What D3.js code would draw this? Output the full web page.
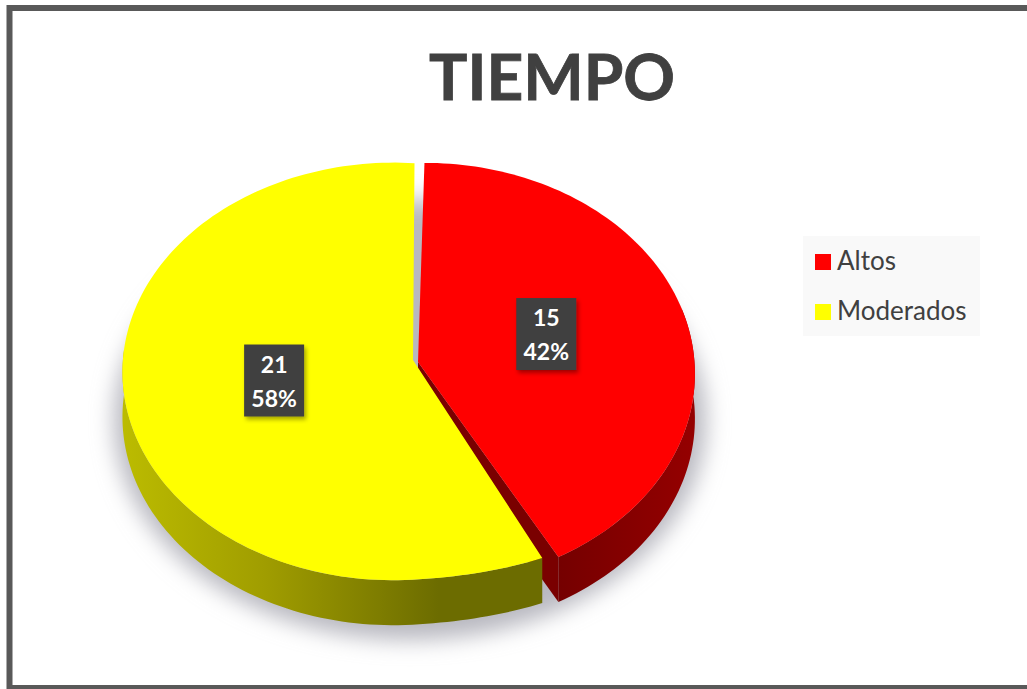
<!DOCTYPE html>
<html>
<head>
<meta charset="utf-8">
<script src="https://cdn.jsdelivr.net/npm/d3@7"></script>
<style>
  html, body { margin: 0; padding: 0; background: #fff; }
  svg { display: block; }
  text { font-family: Lato, sans-serif; }
</style>
</head>
<body>
<div id="chart"></div>
<script>
const categories = ["Altos", "Moderados"];
const values = [15, 21];
const percentLabels = ["42%", "58%"];
const colors = ["#ff0000", "#ffff00"];

const width = 1027, height = 689;
const depth = 45;

// each slice has its own centre because the pie is exploded and drawn in perspective
const geom = {
    Altos: {apexX: 418, apexY: 362, cx: 420, cy: 362, rx: 269, ry: 210, tiltX: -0.02, tiltY: 0.055, skewY: 0, labelDx: -2, labelDy: -3},
    Moderados: {apexX: 413, apexY: 360, cx: 410, cy: 362, rx: 270, ry: 208, tiltX: 0.06, tiltY: 0.045, skewY: 52, labelDx: -3, labelDy: -7}
};

const svg = d3.select("#chart").append("svg")
    .attr("width", width)
    .attr("height", height);

const defs = svg.append("defs");
defs.append("filter").attr("id", "blur").attr("x", "-20%").attr("y", "-20%")
    .attr("width", "140%").attr("height", "140%")
    .append("feGaussianBlur").attr("stdDeviation", 11);
const labelShadow = defs.append("filter").attr("id", "boxShadow");
labelShadow.append("feDropShadow").attr("dx", 2).attr("dy", 3)
    .attr("stdDeviation", 2).attr("flood-color", "#000").attr("flood-opacity", 0.35);

function wallGradient(id, stops) {
    const g = defs.append("linearGradient").attr("id", id)
        .attr("gradientUnits", "userSpaceOnUse")
        .attr("x1", 120).attr("x2", 700).attr("y1", 0).attr("y2", 0);
    stops.forEach(s => g.append("stop").attr("offset", s[0]).attr("stop-color", s[1]));
}
wallGradient("wallYellow", [[0, "#bcbc00"], [0.25, "#a09d00"], [0.55, "#6c6c00"], [1, "#6c6c00"]]);
wallGradient("wallRed", [[0, "#700000"], [0.72, "#700000"], [1, "#960000"]]);

// frame
svg.append("rect")
    .attr("x", 9.5).attr("y", 8)
    .attr("width", width + 20).attr("height", 680)
    .attr("fill", "#fff").attr("stroke", "#595959").attr("stroke-width", 6);

// title
svg.append("text")
    .attr("x", 552).attr("y", 100)
    .attr("text-anchor", "middle")
    .attr("font-size", 64).attr("font-weight", 700)
    .attr("fill", "#404040").attr("stroke", "#404040").attr("stroke-width", 0.8)
    .text("TIEMPO");

const pie = d3.pie().sort(null).startAngle(Math.PI / 180).endAngle(2 * Math.PI + Math.PI / 180);
const slices = pie(values).map((d, i) => ({...d, name: categories[i], g: geom[categories[i]], pct: percentLabels[i], color: colors[i]}));

// angle on the disc to a screen point, f = fraction of the radius
function project(g, a, f = 1) {
    const u = Math.sin(a) * f, v = -Math.cos(a) * f;
    const w = 1 - g.tiltY * v + g.tiltX * u;
    const sag = u > 0 && v > 0 ? g.skewY * u * u : 0;
    return [g.cx + g.rx * u / w, g.cy + g.ry * v / w + sag];
}

function rim(g, a0, a1) {
    const pts = [];
    const n = Math.max(2, Math.ceil(Math.abs(a1 - a0) * 40));
    for (let i = 0; i <= n; i++) pts.push(project(g, a0 + (a1 - a0) * i / n));
    return pts;
}

const line = d3.line();
const down = p => [p[0], p[1] + depth];

// soft shadow under the pie
svg.append("ellipse")
    .attr("cx", 410).attr("cy", 420)
    .attr("rx", 296).attr("ry", 220)
    .attr("fill", "#b8b8c0")
    .attr("filter", "url(#blur)");

const [red, yellow] = slices;

// red cut face, seen in the gap towards the yellow slice
const redTip = project(red.g, red.endAngle);
const redApex = [red.g.apexX, red.g.apexY];
svg.append("path")
    .attr("d", line([redApex, redTip, down(redTip), down(redApex)]) + "Z")
    .attr("fill", "#7a0000");

// red outer wall
const redRim = rim(red.g, Math.PI * 0.42, red.endAngle);
svg.append("path")
    .attr("d", line(redRim.concat(redRim.slice().reverse().map(down))) + "Z")
    .attr("fill", "url(#wallRed)");

// yellow outer wall
const yellowRim = rim(yellow.g, yellow.startAngle, Math.PI * 1.52);
svg.append("path")
    .attr("d", line(yellowRim.concat(yellowRim.slice().reverse().map(down))) + "Z")
    .attr("fill", "url(#wallYellow)");

// top faces
svg.selectAll("path.top")
    .data([red, yellow])
    .enter()
    .append("path")
    .attr("class", "top")
    .attr("fill", d => d.color)
    .attr("d", d => line([[d.g.apexX, d.g.apexY]].concat(rim(d.g, d.startAngle, d.endAngle))) + "Z");

// data labels
const boxW = 60, boxH = 72;
const labels = svg.selectAll("g.label")
    .data(slices)
    .enter()
    .append("g")
    .attr("class", "label")
    .attr("transform", d => {
        const p = project(d.g, (d.startAngle + d.endAngle) / 2, 0.49);
        return `translate(${p[0] + d.g.labelDx},${p[1] + d.g.labelDy})`;
    });
labels.append("rect")
    .attr("x", -boxW / 2).attr("y", -boxH / 2)
    .attr("width", boxW).attr("height", boxH)
    .attr("fill", "#404040")
    .attr("filter", "url(#boxShadow)");
labels.append("text")
    .attr("text-anchor", "middle").attr("y", -8)
    .attr("font-size", 23).attr("font-weight", 700).attr("fill", "#fff")
    .text(d => d.value);
labels.append("text")
    .attr("text-anchor", "middle").attr("y", 26)
    .attr("font-size", 23).attr("font-weight", 700).attr("fill", "#fff")
    .text(d => d.pct);

// legend
const legendY = d3.scaleBand().domain(categories).range([236, 336]);
svg.append("rect")
    .attr("x", 803).attr("y", 236)
    .attr("width", 177).attr("height", 100)
    .attr("fill", "#f9f9f9");
const legend = svg.selectAll("g.legend")
    .data(categories)
    .enter()
    .append("g")
    .attr("class", "legend")
    .attr("transform", d => `translate(815,${legendY(d) + legendY.bandwidth() / 2})`);
legend.append("rect")
    .attr("y", -7).attr("width", 16).attr("height", 16)
    .attr("fill", (d, i) => colors[i]);
legend.append("text")
    .attr("x", 22).attr("y", 9)
    .attr("font-size", 26).attr("fill", "#404040")
    .text(d => d);
</script>
</body>
</html>
